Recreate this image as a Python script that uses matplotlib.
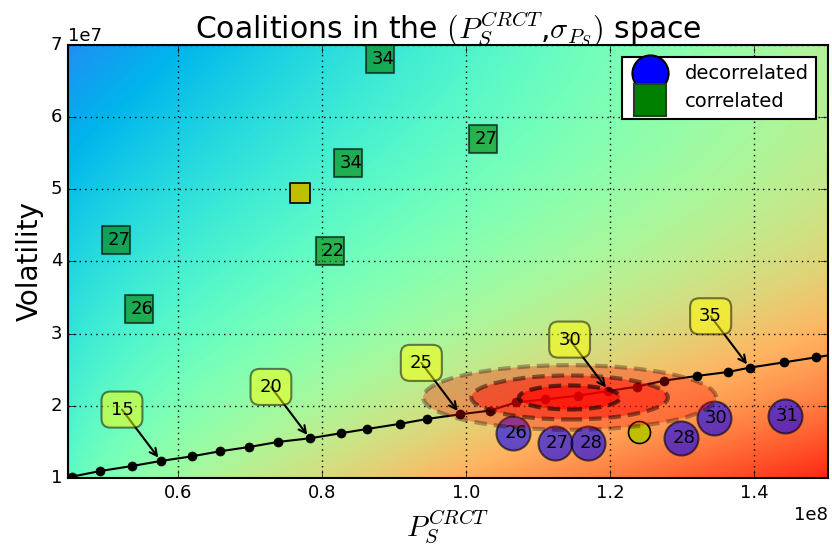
import numpy as np
import matplotlib
matplotlib.use("Agg")
import matplotlib.pyplot as plt
from matplotlib.lines import Line2D
from matplotlib.patches import Ellipse
from matplotlib.ticker import MultipleLocator

# frontier of coalition sizes: P_S^CRCT in 1e8, sigma in 1e7
line_sizes = list(range(12, 39))
line_p = [0.452, 0.492, 0.536, 0.576, 0.619, 0.658, 0.699, 0.739, 0.783, 0.826,
          0.863, 0.908, 0.946, 0.992, 1.033, 1.070, 1.110, 1.156, 1.198, 1.237,
          1.275, 1.321, 1.364, 1.394, 1.442, 1.487, 1.532]
line_sigma = [1.018, 1.097, 1.166, 1.236, 1.300, 1.370, 1.430, 1.500, 1.550, 1.620,
              1.680, 1.750, 1.818, 1.883, 1.933, 2.049, 2.088, 2.141, 2.206, 2.265,
              2.349, 2.414, 2.469, 2.529, 2.603, 2.673, 2.745]

# decorrelated coalitions
decor_p = [1.066, 1.123, 1.170, 1.299, 1.344, 1.443]
decor_sigma = [1.620, 1.489, 1.489, 1.550, 1.827, 1.859]
decor_sizes = [26, 27, 28, 28, 30, 31]
decor_ref = (1.241, 1.642)

# correlated coalitions
cor_p = [0.881, 1.024, 0.836, 0.514, 0.811, 0.546]
cor_sigma = [6.80, 5.693, 5.361, 4.298, 4.150, 3.342]
cor_sizes = [34, 27, 34, 27, 22, 26]
cor_ref = (0.769, 4.945)

# confidence ellipses around the decorrelated cloud
ell_center = (1.144, 2.116)
ell_width = [0.407, 0.273, 0.141]
ell_height = [0.896, 0.610, 0.333]
ell_alpha = [0.3, 0.45, 0.6]

XLIM = (0.447e8, 1.503e8)
YLIM = (1e7, 7e7)

plt.style.use('classic')
plt.rcParams['mathtext.fontset'] = 'cm'

fig = plt.figure(figsize=(8.32, 5.56), dpi=100, facecolor='white')
ax = fig.add_axes([68 / 832, 1 - 478 / 556, 760 / 832, 433 / 556])

# background shading (0 top/left -> 1 bottom/right)
gx = np.linspace(0, 1, 300)
gs = np.linspace(1, 0, 300)
XN, SN = np.meshgrid(gx, gs)
left_col = 0.19 + 0.24 * SN
right_col = 0.60 + 0.35 * SN ** 2
wx = XN ** (1.0 - 0.3 * SN)
shade = (1 - wx) * left_col + wx * right_col
ax.imshow(shade, cmap='rainbow', vmin=0, vmax=1, origin='lower',
          extent=[XLIM[0], XLIM[1], YLIM[0], YLIM[1]], aspect='auto',
          interpolation='bilinear', zorder=0)

lp = np.array(line_p) * 1e8
ls = np.array(line_sigma) * 1e7
ax.plot(lp, ls, 'k-', lw=1.5, marker='o', ms=6.5, mfc='k', mec='k', zorder=3)

ax.scatter(np.array(decor_p) * 1e8, np.array(decor_sigma) * 1e7, s=600, c='blue',
           marker='o', alpha=0.6, edgecolors='k', linewidths=1.5, zorder=3)
ax.scatter([decor_ref[0] * 1e8], [decor_ref[1] * 1e7], s=250, c='y', marker='o',
           edgecolors='k', linewidths=1.2, zorder=3)
ax.scatter(np.array(cor_p) * 1e8, np.array(cor_sigma) * 1e7, s=435, c='green',
           marker='s', alpha=0.6, edgecolors='k', linewidths=1.5, zorder=3)
ax.scatter([cor_ref[0] * 1e8], [cor_ref[1] * 1e7], s=210, c='y', marker='s',
           edgecolors='k', linewidths=1.2, zorder=3)

for x, y, s in zip(decor_p + cor_p, decor_sigma + cor_sigma, decor_sizes + cor_sizes):
    ax.annotate(str(s), xy=(x * 1e8, y * 1e7), xytext=(2, 0), textcoords='offset points',
                ha='center', va='center', fontsize=13, zorder=3.5)

for w, h, a in zip(ell_width, ell_height, ell_alpha):
    ax.add_patch(Ellipse((ell_center[0] * 1e8, ell_center[1] * 1e7), w * 1e8, h * 1e7,
                         fc='red', ec='k', alpha=a, lw=3, ls=(0, (9, 5)), zorder=4))

for s, x, y in zip(line_sizes, lp, ls):
    if s % 5 == 0:
        ax.annotate(str(s), xy=(x, y), xytext=(-28, 37), textcoords='offset points',
                    ha='center', va='center', fontsize=13, zorder=6,
                    bbox=dict(boxstyle='round,pad=0.5', fc='yellow', ec='k', alpha=0.5, lw=1.5),
                    arrowprops=dict(arrowstyle='->', color='k', lw=1.5, patchA=None,
                                    shrinkA=0, shrinkB=3))

ax.set_xlim(*XLIM)
ax.set_ylim(*YLIM)
ax.xaxis.set_major_locator(MultipleLocator(0.2e8))
ax.yaxis.set_major_locator(MultipleLocator(1e7))
ax.ticklabel_format(style='sci', scilimits=(0, 0))
ax.grid(True, color='k', linestyle=':', linewidth=1)
ax.tick_params(labelsize=13, length=6)
ax.xaxis.get_offset_text().set_fontsize(13)
ax.yaxis.get_offset_text().set_fontsize(13)
for sp in ax.spines.values():
    sp.set_linewidth(1.5)

ax.set_title(r'Coalitions in the $(P_S^{CRCT}$,$\sigma_{P_S})$ space', fontsize=21.5)
ax.set_xlabel(r'$P_S^{CRCT}$', fontsize=21)
ax.set_ylabel('Volatility', fontsize=20)

handles = [Line2D([], [], ls='none', marker='o', ms=26, mfc='blue', mec='k', mew=1.5),
           Line2D([], [], ls='none', marker='s', ms=23, mfc='green', mec='#204020', mew=1.5)]
leg = ax.legend(handles, ['decorrelated', 'correlated'], loc='upper right', numpoints=1,
                fontsize=14, fancybox=False, labelspacing=0.45, handletextpad=0.8,
                borderaxespad=0.6)
leg.get_frame().set_linewidth(1.5)
leg.set_zorder(10)

fig.savefig('out.png', dpi=100, facecolor='white')
